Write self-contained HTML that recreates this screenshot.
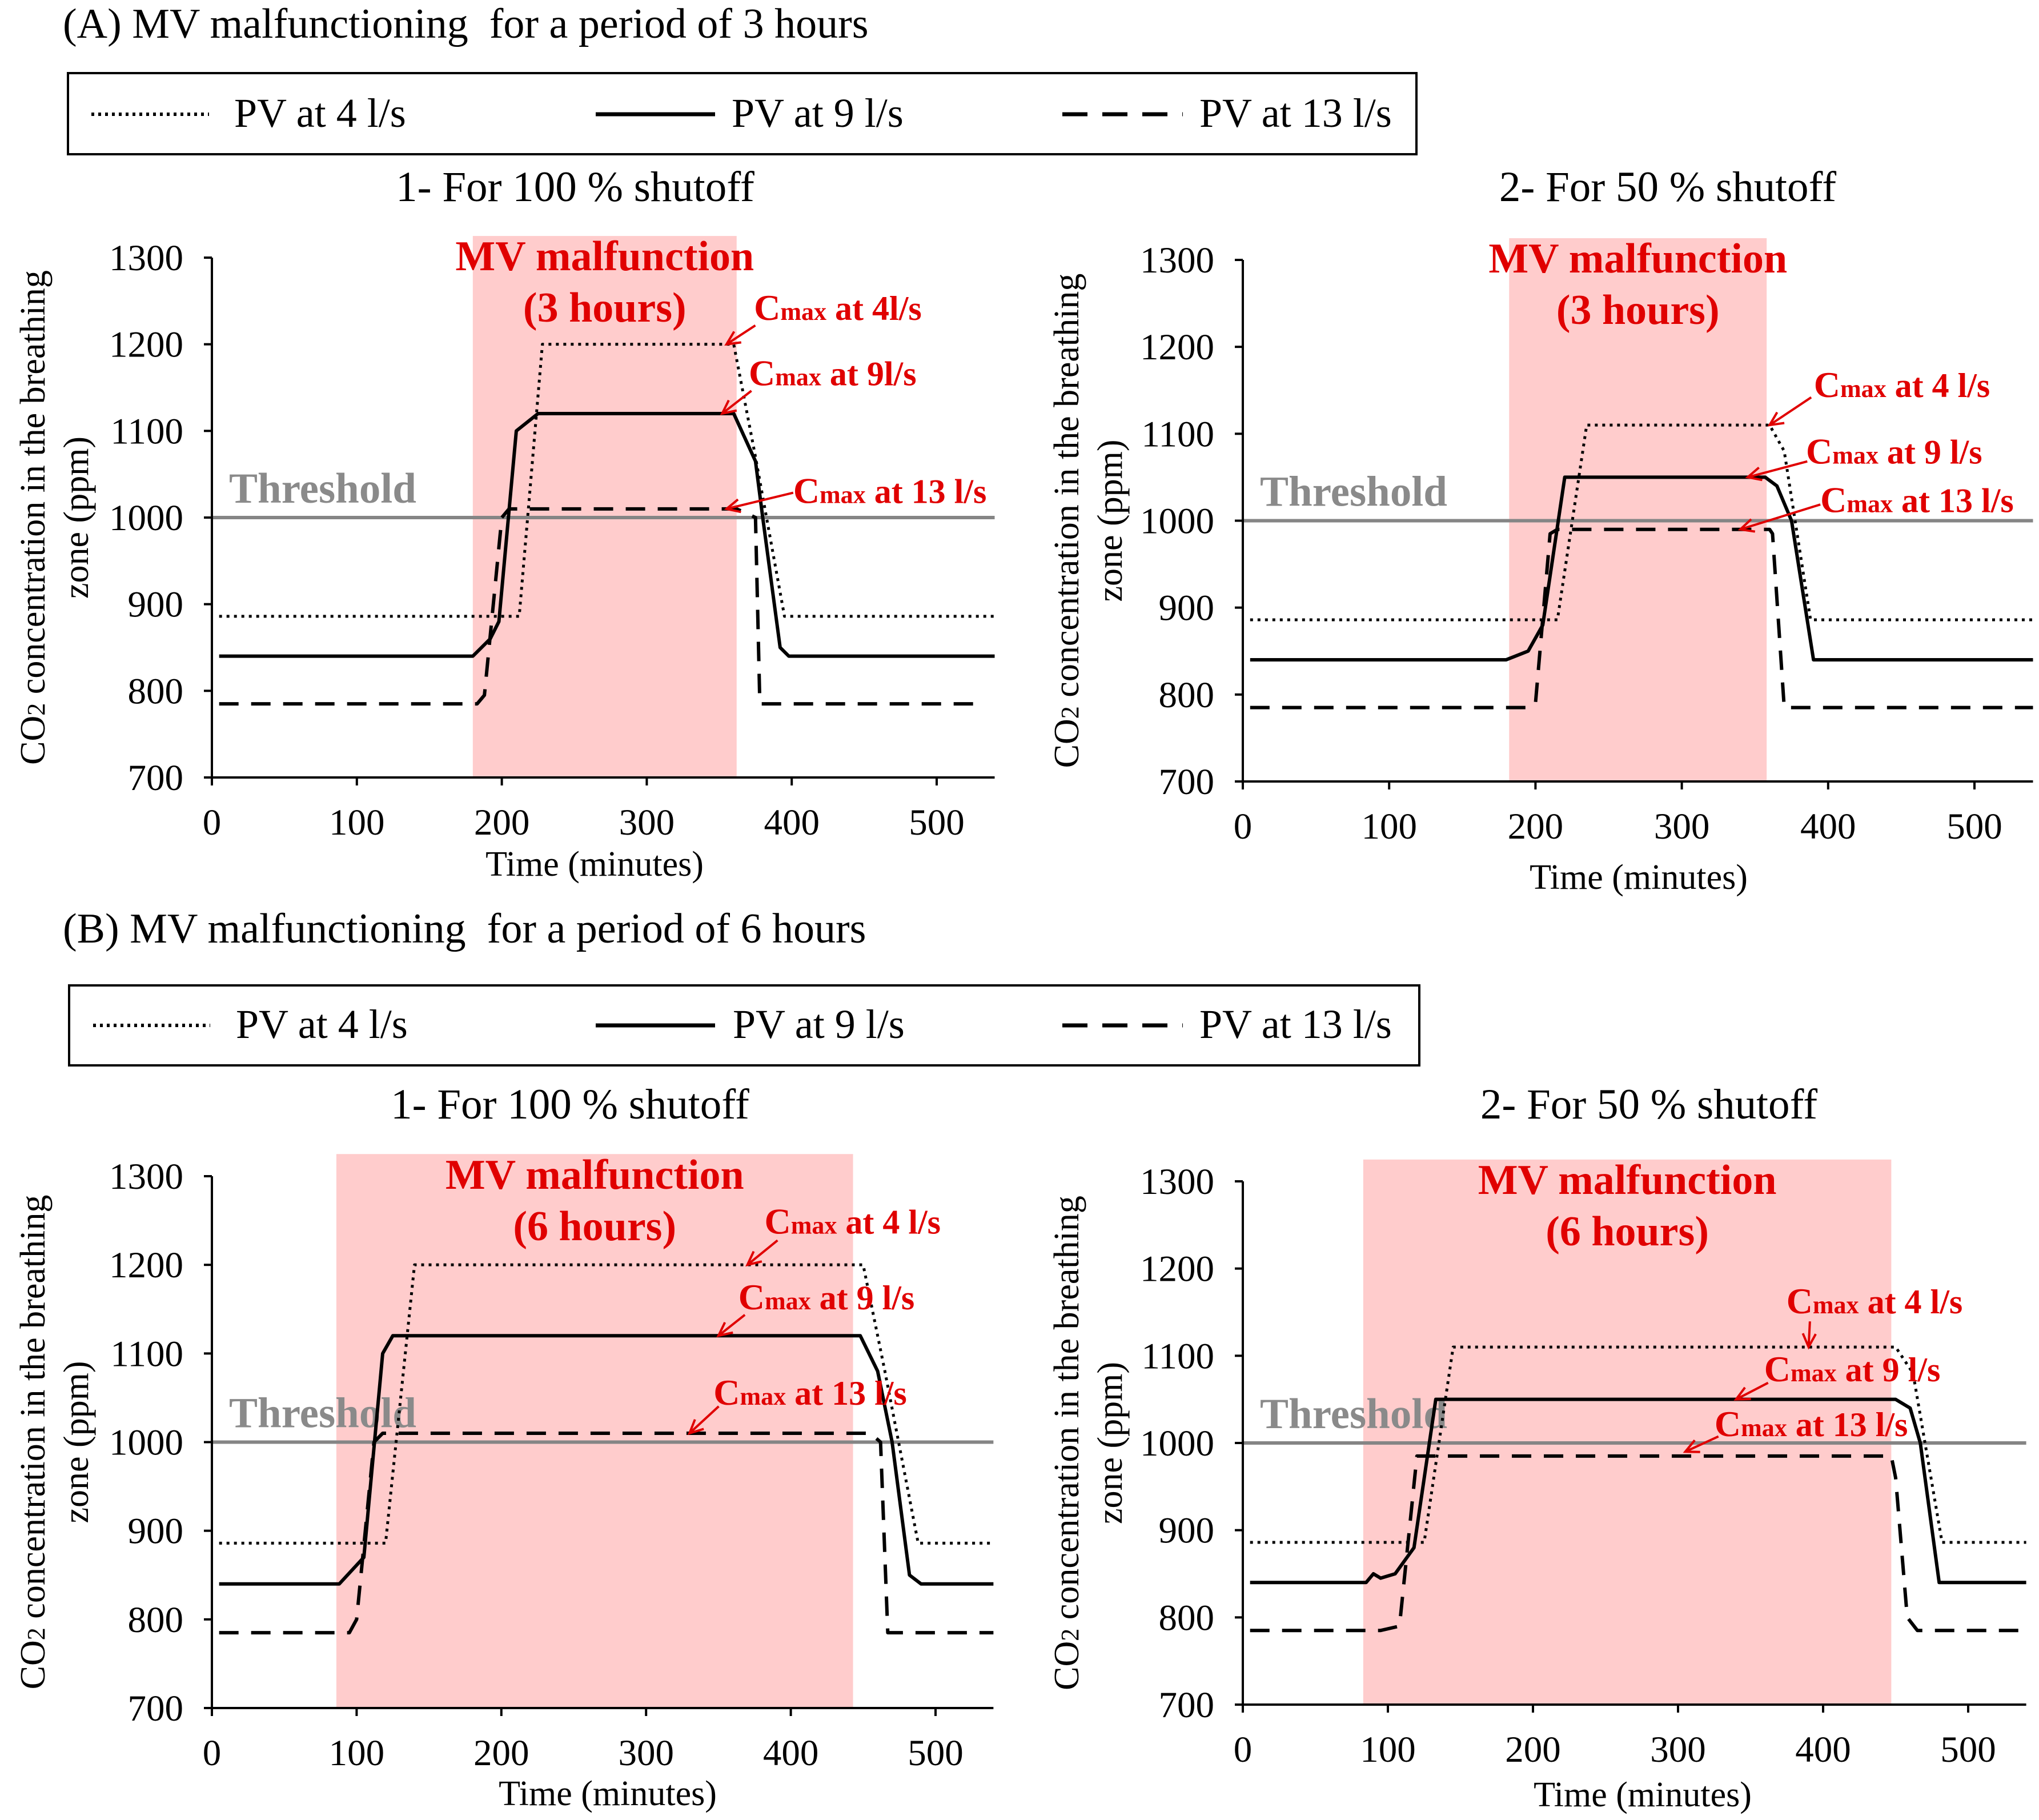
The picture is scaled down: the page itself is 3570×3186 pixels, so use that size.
<!DOCTYPE html>
<html><head><meta charset="utf-8">
<style>
html,body{margin:0;padding:0;background:#fff;}
svg{display:block;font-family:"Liberation Serif",serif;}
</style></head>
<body>
<svg id="fig" xmlns="http://www.w3.org/2000/svg" width="3570" height="3186" viewBox="0 0 3570 3186">
<rect width="3570" height="3186" fill="#fff"/>
<text x="110" y="66" font-size="74" fill="#000" xml:space="preserve">(A) MV malfunctioning  for a period of 3 hours</text>
<text x="110" y="1650" font-size="74" fill="#000" xml:space="preserve">(B) MV malfunctioning  for a period of 6 hours</text>
<g>
<rect x="119" y="128" width="2361" height="142" fill="none" stroke="#000" stroke-width="4"/>
<line x1="160" y1="200" x2="366" y2="200" stroke="#000" stroke-width="6" stroke-dasharray="5 7"/>
<text x="410" y="222" font-size="72">PV at 4 l/s</text>
<line x1="1043" y1="200" x2="1252" y2="200" stroke="#000" stroke-width="7"/>
<text x="1281" y="222" font-size="72">PV at 9 l/s</text>
<line x1="1860" y1="200" x2="2071" y2="200" stroke="#000" stroke-width="7" stroke-dasharray="44 26"/>
<text x="2100" y="222" font-size="72">PV at 13 l/s</text>
</g>
<g>
<rect x="121" y="1725" width="2364" height="140" fill="none" stroke="#000" stroke-width="4"/>
<line x1="163" y1="1795" x2="368" y2="1795" stroke="#000" stroke-width="6" stroke-dasharray="5 7"/>
<text x="413" y="1817" font-size="72">PV at 4 l/s</text>
<line x1="1043" y1="1795" x2="1252" y2="1795" stroke="#000" stroke-width="7"/>
<text x="1283" y="1817" font-size="72">PV at 9 l/s</text>
<line x1="1860" y1="1795" x2="2071" y2="1795" stroke="#000" stroke-width="7" stroke-dasharray="44 26"/>
<text x="2100" y="1817" font-size="72">PV at 13 l/s</text>
</g>
</svg>
<script>
// ---- data (time in minutes, CO2 in ppm) ----
const xTicks = [0,100,200,300,400,500];
const yTicks = [700,800,900,1000,1100,1200,1300];
const threshold = 1000;
// Panel A1: 3h, 100% shutoff
const a1Malfunction = [180,362];
const a1Pv4 = [[5,886],[212,886],[228,1200],[360,1200],[375,1070],[395,886],[540,886]];
const a1Pv9 = [[5,840],[180,840],[192,860],[198,880],[210,1100],[225,1120],[360,1120],[375,1065],[380,1000],[392,850],[398,840],[540,840]];
const a1Pv13 = [[5,785],[183,785],[188,795],[200,1000],[205,1010],[362,1010],[375,1000],[378,785],[530,785]];
// Panel A2: 3h, 50% shutoff
const a2Malfunction = [182,358];
const a2Pv4 = [[5,886],[215,886],[235,1110],[360,1110],[370,1080],[388,886],[540,886]];
const a2Pv9 = [[5,840],[180,840],[195,850],[205,880],[220,1050],[357,1050],[365,1040],[375,1000],[390,840],[540,840]];
const a2Pv13 = [[5,785],[195,785],[200,790],[210,985],[215,990],[360,990],[362,985],[370,785],[540,785]];
// Panel B1: 6h, 100% shutoff
const b1Malfunction = [86,443];
const b1Pv4 = [[5,886],[120,886],[140,1200],[450,1200],[465,1080],[488,886],[540,886]];
const b1Pv9 = [[5,840],[88,840],[105,870],[118,1100],[125,1120],[448,1120],[460,1080],[470,1000],[482,850],[490,840],[540,840]];
const b1Pv13 = [[5,785],[95,785],[100,800],[112,1000],[118,1010],[455,1010],[462,1000],[467,785],[540,785]];
// Panel B2: 6h, 50% shutoff
const b2Malfunction = [83,447];
const b2Pv4 = [[5,886],[125,886],[145,1110],[450,1110],[462,1080],[482,886],[540,886]];
const b2Pv9 = [[5,840],[85,840],[90,850],[95,845],[105,850],[118,880],[133,1050],[450,1050],[460,1040],[467,1000],[480,840],[540,840]];
const b2Pv13 = [[5,785],[95,785],[108,790],[120,985],[447,985],[450,960],[458,800],[465,785],[540,785]];
// annotation targets [time, ppm]
const a1Cmax = [[355,1200],[352,1120],[355,1010]];
const a2Cmax = [[360,1110],[345,1050],[340,990]];
const b1Cmax = [[370,1200],[350,1120],[330,1010]];
const b2Cmax = [[390,1110],[340,1050],[305,990]];
const a1CmaxLabels = ["at 4l/s","at 9l/s","at 13 l/s"];
const a2CmaxLabels = ["at 4 l/s","at 9 l/s","at 13 l/s"];
const b1CmaxLabels = ["at 4 l/s","at 9 l/s","at 13 l/s"];
const b2CmaxLabels = ["at 4 l/s","at 9 l/s","at 13 l/s"];

const NS="http://www.w3.org/2000/svg";
const svg=document.getElementById('fig');
function mk(tag,attrs,parent){const e=document.createElementNS(NS,tag);for(const k in attrs)e.setAttribute(k,attrs[k]);(parent||svg).appendChild(e);return e;}
const S=2.288;

function panel(cfg){
  const g=mk('g',{});
  
  
  const x0=cfg.x0, x500=cfg.x500, y1300=cfg.y1300, y700=cfg.y700;
  const X=t=>x0+(x500-x0)*t/500;
  const Y=v=>y700+(y1300-y700)*(v-700)/600;
  const right=X(540);
  const band=mk('rect',{x:X(cfg.mal[0]),y:Y(1325),width:X(cfg.mal[1])-X(cfg.mal[0]),height:Y(700)-Y(1325),fill:'#ffcccc'},g);
  
  
  const th=mk('line',{x1:X(0),x2:right,y1:Y(threshold),y2:Y(threshold),stroke:'#858585','stroke-width':6},g);
  
  
  const tht=mk('text',{x:X(0)+30,y:Y(threshold)-26,'font-size':75,'font-weight':'bold',fill:'#8a8a8a'},g);
  tht.textContent='Threshold';
  
  
  mk('line',{x1:X(0),x2:X(0),y1:Y(1300),y2:Y(700),stroke:'#000','stroke-width':4},g);
  mk('line',{x1:X(0)-14,x2:right,y1:Y(700),y2:Y(700),stroke:'#000','stroke-width':4},g);
  yTicks.forEach(v=>{
    mk('line',{x1:X(0)-14,x2:X(0),y1:Y(v),y2:Y(v),stroke:'#000','stroke-width':4},g);
    const t=mk('text',{x:X(0)-50,y:Y(v)+22,'font-size':65,'text-anchor':'end'},g);
    t.textContent=v;
    
    
  });
  xTicks.forEach(v=>{
    mk('line',{x1:X(v),x2:X(v),y1:Y(700),y2:Y(700)+14,stroke:'#000','stroke-width':4},g);
    const t=mk('text',{x:X(v),y:Y(700)+100,'font-size':65,'text-anchor':'middle'},g);
    t.textContent=v;
    
    
  });
  const styles=[['5 8',5,'series-pv-4'],['',6,'series-pv-9'],['34 22',6,'series-pv-13']];
  [cfg.s4,cfg.s9,cfg.s13].forEach((s,i)=>{
    const p=mk('polyline',{points:s.map(d=>X(d[0])+','+Y(d[1])).join(' '),fill:'none',stroke:'#000','stroke-width':styles[i][1],'stroke-linejoin':'round'},g);
    if(styles[i][0])p.setAttribute('stroke-dasharray',styles[i][0]);
    
    
  });
  const mc=(X(cfg.mal[0])+X(cfg.mal[1]))/2;
  const m1=mk('text',{x:mc,y:Y(1300)+22,'font-size':74,'font-weight':'bold',fill:'#e00000','text-anchor':'middle'},g);
  m1.textContent='MV malfunction';
  
  
  const m2=mk('text',{x:mc,y:Y(1300)+112,'font-size':74,'font-weight':'bold',fill:'#e00000','text-anchor':'middle'},g);
  m2.textContent=cfg.hours;
  
  
  cfg.ann.forEach((a,i)=>{
    const tip=cfg.cmax[i];
    const t=mk('text',{x:a[0]*S,y:a[1]*S+4,'font-weight':'bold',fill:'#e00000','font-size':60},g);
    const c=mk('tspan',{'font-size':64},t);c.textContent='C';
    const mx=mk('tspan',{'font-size':44},t);mx.textContent='max';
    const r=mk('tspan',{},t);r.textContent=' '+cfg.labels[i];
    
    
    const tx=X(tip[0]), ty=Y(tip[1]);
    const sx=a[2]*S, sy=a[3]*S;
    const ar=mk('line',{x1:sx,y1:sy,x2:tx,y2:ty,stroke:'#e00000','stroke-width':4},g);
    
    
    const ang=Math.atan2(ty-sy,tx-sx),L=26,w=0.45;
    const hd=mk('polyline',{points:`${tx-L*Math.cos(ang-w)},${ty-L*Math.sin(ang-w)} ${tx},${ty} ${tx-L*Math.cos(ang+w)},${ty-L*Math.sin(ang+w)}`,fill:'none',stroke:'#e00000','stroke-width':4},g);
    
    
  });
  const st=mk('text',{x:cfg.sub[0],y:cfg.sub[1],'font-size':75,'text-anchor':'middle'},g);
  st.textContent=cfg.subtitle;
  
  
  const xt=mk('text',{x:cfg.xl[0],y:cfg.xl[1],'font-size':62,'text-anchor':'middle'},g);
  xt.textContent='Time  (minutes)';
  
  
  const yc=(Y(1300)+Y(700))/2;
  const yt=mk('text',{transform:`translate(${cfg.yl}, ${yc}) rotate(-90)`,'font-size':62,'text-anchor':'middle'},g);
  const t1=mk('tspan',{x:0,dy:0},yt);t1.textContent='CO';
  const t2=mk('tspan',{'font-size':44},yt);t2.textContent='2';
  const t3=mk('tspan',{},yt);t3.textContent=' concentration  in  the  breathing';
  const t4=mk('tspan',{x:0,dy:76},yt);t4.textContent='zone  (ppm)';
  
  
}

panel({name:'panel-a1',x0:371,x500:1640,y1300:451,y700:1361,mal:a1Malfunction,s4:a1Pv4,s9:a1Pv9,s13:a1Pv13,cmax:a1Cmax,labels:a1CmaxLabels,hours:'(3 hours)',
 ann:[[577,243,578,249],[573,293,575,299],[607,383,607,377]],sub:[1007,352],subtitle:'1- For 100 % shutoff',xl:[1041,1533],yl:78});
panel({name:'panel-a2',x0:2176,x500:3457,y1300:455,y700:1368,mal:a2Malfunction,s4:a2Pv4,s9:a2Pv9,s13:a2Pv13,cmax:a2Cmax,labels:a2CmaxLabels,hours:'(3 hours)',
 ann:[[1388,302,1386,304],[1382,353,1383,353],[1393,390,1393,386]],sub:[2920,352],subtitle:'2- For 50 % shutoff',xl:[2869,1556],yl:1888});
panel({name:'panel-b1',x0:371,x500:1638,y1300:2059,y700:2990,mal:b1Malfunction,s4:b1Pv4,s9:b1Pv9,s13:b1Pv13,cmax:b1Cmax,labels:b1CmaxLabels,hours:'(6 hours)',
 ann:[[585,942,595,949],[565,1000,570,1006],[546,1073,550,1076]],sub:[998,1958],subtitle:'1- For 100 % shutoff',xl:[1064,3160],yl:78});
panel({name:'panel-b2',x0:2176,x500:3446,y1300:2068,y700:2984,mal:b2Malfunction,s4:b2Pv4,s9:b2Pv9,s13:b2Pv13,cmax:b2Cmax,labels:b2CmaxLabels,hours:'(6 hours)',
 ann:[[1367,1003,1385,1011],[1350,1055,1353,1058],[1312,1097,1315,1099]],sub:[2887,1958],subtitle:'2- For 50 % shutoff',xl:[2876,3162],yl:1888});
</script>
</body></html>
